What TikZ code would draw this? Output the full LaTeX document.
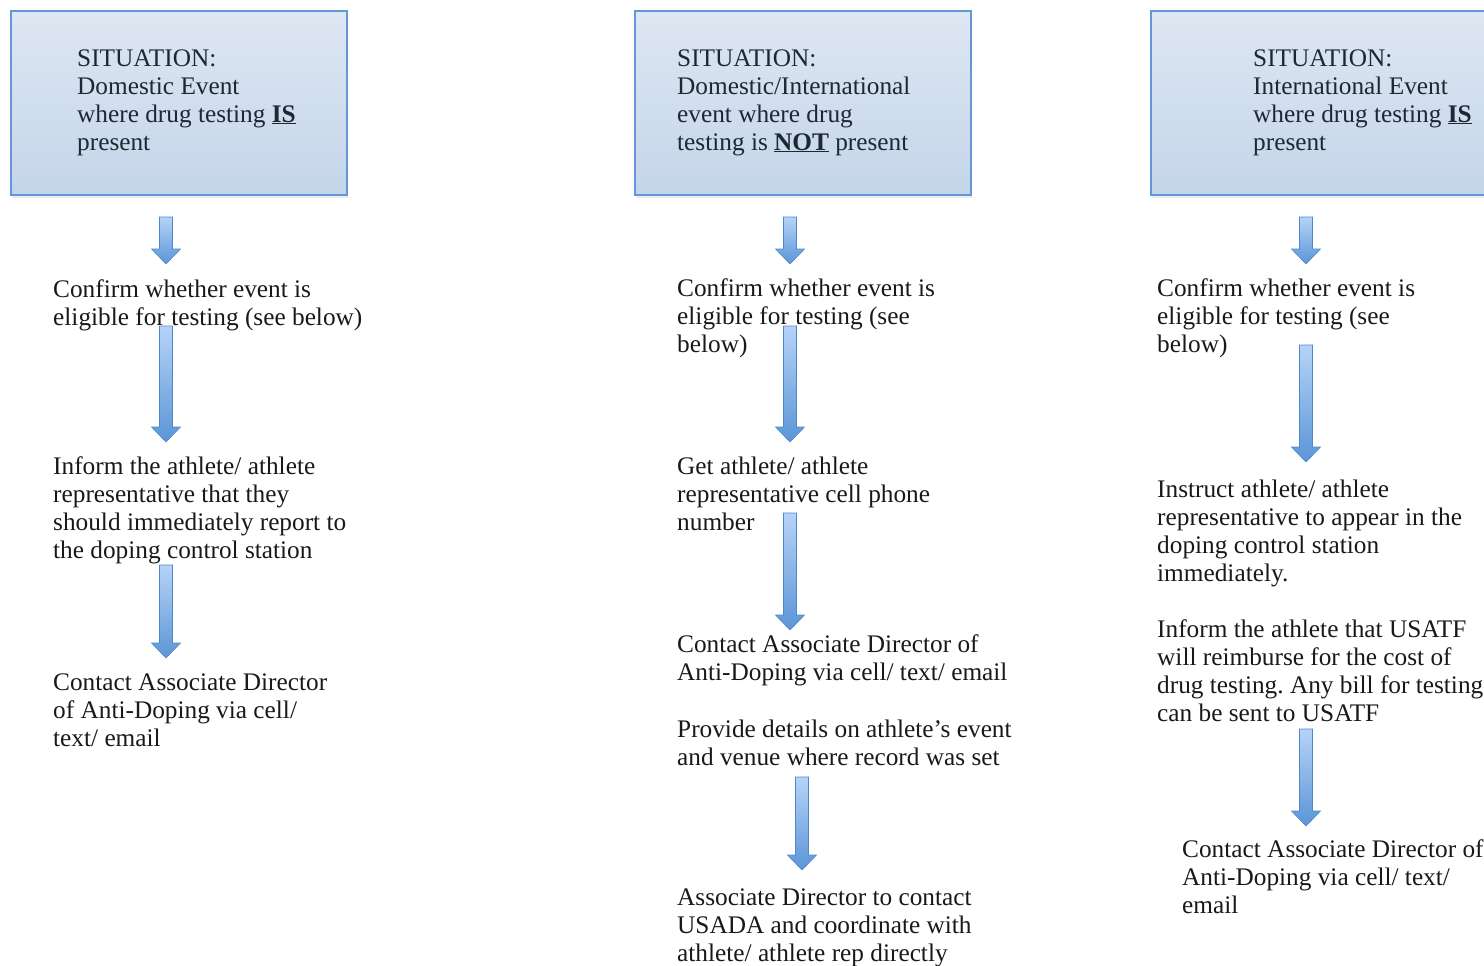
\documentclass[tikz,border=0pt]{standalone}
\usepackage{fontspec}
\setmainfont{Liberation Serif}
\frenchspacing
\usetikzlibrary{calc,shadows}

\definecolor{boxtop}{HTML}{DEE7F2}
\definecolor{boxbot}{HTML}{C4D5E9}
\definecolor{boxline}{HTML}{6597D6}
\definecolor{arrtop}{HTML}{B6D3F7}
\definecolor{arrbot}{HTML}{5B95D7}
\definecolor{arrline}{HTML}{5089CB}
\definecolor{sittext}{HTML}{1E2734}

\tikzset{
  sitbox/.style={draw=boxline, line width=1.6pt, top color=boxtop, bottom color=boxbot,
    minimum width=336pt, minimum height=184pt, inner sep=0pt, anchor=north west,
    drop shadow={shadow xshift=1pt, shadow yshift=-3pt, opacity=.15}},
  sittxt/.style={anchor=base west, align=left, inner sep=0pt, text=sittext,
    font=\fontsize{25.3}{28}\selectfont},
  steptxt/.style={anchor=base west, align=left, inner sep=0pt, text=black!90,
    font=\fontsize{25.3}{28}\selectfont},
  arrowfill/.style={top color=arrtop, bottom color=arrbot, draw=arrline, line width=.6pt}
}

% block arrow pointing down from #1 to #2
\newcommand{\blockarrow}[2]{%
  \shade[arrowfill] let \p1=(#1), \p2=(#2) in
    (\x1-6.5pt,\y1) -- (\x1+6.5pt,\y1) -- (\x1+6.5pt,\y2+15pt) -- (\x1+14.5pt,\y2+15pt)
    -- (\x2,\y2) -- (\x1-14.5pt,\y2+15pt) -- (\x1-6.5pt,\y2+15pt) -- cycle;}

\begin{document}
\begin{tikzpicture}[x=1pt,y=-1pt]
\useasboundingbox (0,0) rectangle (1484,966);
\clip (0,0) rectangle (1484,966);

% situation boxes (text placed by the baseline of its last line)
\node[sitbox] (box1) at (10,10) {};
\node[sitbox] (box2) at (634,10) {};
\node[sitbox] (box3) at (1150,10) {};

\node[sittxt] (sit1) at (77,150) {SITUATION:\\Domestic Event\\where drug testing \textbf{\underline{IS}}\\present};
\node[sittxt] (sit2) at (677,150) {SITUATION:\\Domestic/International\\event where drug\\testing is \textbf{\underline{NOT}} present};
\node[sittxt] (sit3) at (1253,150) {SITUATION:\\International Event\\where drug testing \textbf{\underline{IS}}\\present};

% column 1
\node[steptxt] (t1a) at (53,325) {Confirm whether event is\\eligible for testing (see below)};
\node[steptxt] (t1b) at (53,558) {Inform the athlete/ athlete\\representative that they\\should immediately report to\\the doping control station};
\node[steptxt] (t1c) at (53,746) {Contact Associate Director\\of Anti-Doping via cell/\\text/ email};

% column 2
\node[steptxt] (t2a) at (677,352) {Confirm whether event is\\eligible for testing (see\\below)};
\node[steptxt] (t2b) at (677,530) {Get athlete/ athlete\\representative cell phone\\number};
\node[steptxt] (t2c) at (677,680) {Contact Associate Director of\\Anti-Doping via cell/ text/ email};
\node[steptxt] (t2d) at (677,765) {Provide details on athlete’s event\\and venue where record was set};
\node[steptxt] (t2e) at (677,961) {Associate Director to contact\\USADA and coordinate with\\athlete/ athlete rep directly};

% column 3
\node[steptxt] (t3a) at (1157,352) {Confirm whether event is\\eligible for testing (see\\below)};
\node[steptxt] (t3b) at (1157,581) {Instruct athlete/ athlete\\representative to appear in the\\doping control station\\immediately.};
\node[steptxt] (t3c) at (1157,721) {Inform the athlete that USATF\\will reimburse for the cost of\\drug testing. Any bill for testing\\can be sent to USATF};
\node[steptxt] (t3d) at (1182,913) {Contact Associate Director of\\Anti-Doping via cell/ text/\\email};

% arrows
\foreach \k/\x/\ya/\yb in {1a/166/217/264, 1b/166/326/442, 1c/166/565/658,
    2a/790/217/264, 2b/790/326/442, 2c/790/513/630, 2d/802/777/870,
    3a/1306/217/264, 3b/1306/345/462, 3c/1306/729/826}{
  \coordinate (top\k) at (\x,\ya);
  \coordinate (tip\k) at (\x,\yb);
  \blockarrow{top\k}{tip\k}
}
\end{tikzpicture}
\end{document}
